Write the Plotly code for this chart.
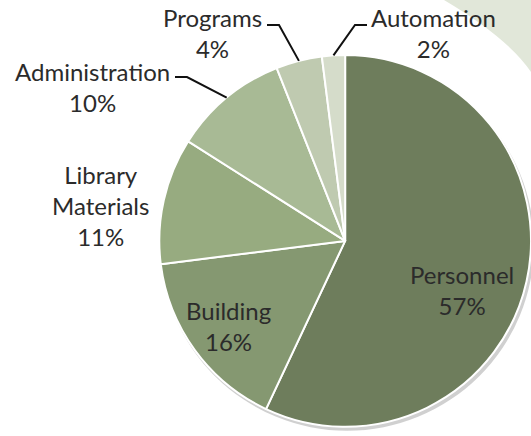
import math
import plotly.graph_objects as go

W, H = 531, 436

categories = ["Personnel", "Building", "Library Materials", "Administration", "Programs", "Automation"]
values = [57, 16, 11, 10, 4, 2]
colors = ["#6e7d5c", "#859871", "#97ab80", "#a8ba95", "#bfcab0", "#d5dcca"]

# label layout (pixel centres) and label line text
label_pos = {
    "Personnel": (462, 290),
    "Building": (228, 326),
    "Library Materials": (100, 206),
    "Administration": (92, 87),
    "Programs": (212, 33),
    "Automation": (433, 33),
}
label_text = {
    "Personnel": "Personnel<br>57%",
    "Building": "Building<br>16%",
    "Library Materials": "Library<br>Materials<br>11%",
    "Administration": "Administration<br>10%",
    "Programs": "Programs<br>4%",
    "Automation": "Automation<br>2%",
}
# leader lines: start of horizontal tick (pixel), elbow x (pixel)
leaders = {
    "Administration": ((175, 77), 187),
    "Programs": ((267, 25), 279),
    "Automation": ((367, 25), 355),
}

dom_x = [0.30, 1.0]
dom_y = [0.021, 0.874]


def paper(x, y):
    return x / W, 1 - y / H


fig = go.Figure()
fig.add_trace(go.Pie(
    labels=categories,
    values=values,
    sort=False,
    direction="clockwise",
    rotation=0,
    marker=dict(colors=colors, line=dict(color="white", width=2)),
    textinfo="none",
    hoverinfo="label+percent",
    domain=dict(x=dom_x, y=dom_y),
    showlegend=False,
))

# pie geometry in pixels
cx = (dom_x[0] + dom_x[1]) / 2 * W
cy = H - (dom_y[0] + dom_y[1]) / 2 * H
r = min((dom_x[1] - dom_x[0]) * W, (dom_y[1] - dom_y[0]) * H) / 2

total = sum(values)
cum = 0
mid_angle = {}
for c, v in zip(categories, values):
    mid_angle[c] = (cum + v / 2) / total * 360
    cum += v

shapes = []
# background decoration in upper right
p0 = paper(444, 0)
pc = paper(508, 38)
p1 = paper(531, 72)
shapes.append(dict(
    type="path", xref="paper", yref="paper", layer="below",
    path=f"M {p0[0]},{p0[1]} Q {pc[0]},{pc[1]} {p1[0]},{p1[1]} L 1,1 Z",
    fillcolor="#e1e7d9", line=dict(width=0),
))
# soft shadow under the pie
s0 = paper(cx - r + 1, cy - r + 3)
s1 = paper(cx + r + 3, cy + r + 4)
shapes.append(dict(
    type="circle", xref="paper", yref="paper", layer="below",
    x0=s0[0], y0=s1[1], x1=s1[0], y1=s0[1],
    fillcolor="rgba(120,120,120,0.35)", line=dict(width=0),
))

for name, ((sx, sy), ex) in leaders.items():
    th = math.radians(mid_angle[name])
    tx = cx + r * math.sin(th)
    ty = cy - r * math.cos(th)
    a = paper(sx, sy)
    b = paper(ex, sy)
    c = paper(tx, ty)
    shapes.append(dict(
        type="path", xref="paper", yref="paper",
        path=f"M {a[0]},{a[1]} L {b[0]},{b[1]} L {c[0]},{c[1]}",
        line=dict(color="#111111", width=2),
    ))

annotations = []
for name in categories:
    x, y = label_pos[name]
    px_, py_ = paper(x, y)
    annotations.append(dict(
        x=px_, y=py_, xref="paper", yref="paper",
        text=label_text[name], showarrow=False,
        xanchor="center", yanchor="middle", align="center",
        font=dict(family="Lato, Carlito, sans-serif", size=24, color="#2b2b2b"),
    ))

fig.update_layout(
    width=W, height=H,
    margin=dict(l=0, r=0, t=0, b=0),
    paper_bgcolor="white",
    plot_bgcolor="white",
    shapes=shapes,
    annotations=annotations,
)

fig.write_html(
    "out.html",
    config={"displayModeBar": False},
    post_script="document.body.style.margin='0';document.body.style.overflow='hidden';",
)
